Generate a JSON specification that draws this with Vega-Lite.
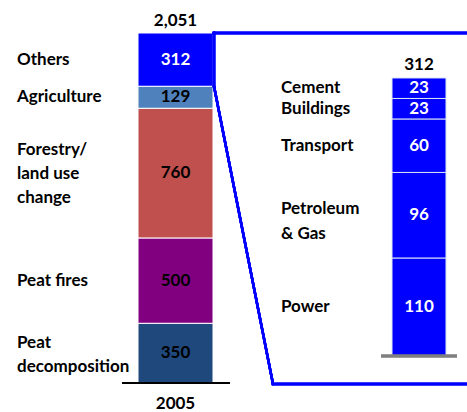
{
  "$schema": "https://vega.github.io/schema/vega-lite/v6.json",
  "width": 467,
  "height": 412,
  "autosize": {"type": "none"},
  "padding": 0,
  "background": "white",
  "config": {
    "view": {"stroke": null},
    "axis": {"disable": true},
    "text": {"font": "Lato", "fontWeight": "bold", "fontSize": 17}
  },
  "datasets": {
    "total": [
      {"cat": "Peat decomposition", "label": "Peat\ndecomposition", "value": 350, "ord": 1, "year": "2005"},
      {"cat": "Peat fires", "label": "Peat fires", "value": 500, "ord": 2, "year": "2005"},
      {"cat": "Forestry/land use change", "label": "Forestry/\nland use\nchange", "value": 760, "ord": 3, "year": "2005"},
      {"cat": "Agriculture", "label": "Agriculture", "value": 129, "ord": 4, "year": "2005"},
      {"cat": "Others", "label": "Others", "value": 312, "ord": 5, "year": "2005"}
    ],
    "others": [
      {"cat": "Power", "label": "Power", "value": 110, "ord": 1},
      {"cat": "Petroleum & Gas", "label": "Petroleum\n& Gas", "value": 96, "ord": 2},
      {"cat": "Transport", "label": "Transport", "value": 60, "ord": 3},
      {"cat": "Buildings", "label": "Buildings", "value": 23, "ord": 4},
      {"cat": "Cement", "label": "Cement", "value": 23, "ord": 5}
    ]
  },
  "resolve": {"scale": {"y": "independent"}},
  "layer": [
    {
      "data": {"name": "total"},
      "layer": [
        {
          "transform": [{"stack": "value", "groupby": [], "sort": [{"field": "ord"}], "as": ["v0", "v1"]}],
          "mark": {"type": "rect", "stroke": "white", "strokeWidth": 1},
          "encoding": {
            "x": {"datum": 138, "type": "quantitative", "scale": {"domain": [0, 467], "nice": false, "zero": false}},
            "x2": {"datum": 213},
            "y": {"field": "v0", "type": "quantitative", "scale": {"domain": [-170, 2244.4], "nice": false, "zero": false}},
            "y2": {"field": "v1"},
            "color": {
              "field": "cat", "type": "nominal", "legend": null,
              "scale": {
                "domain": ["Peat decomposition", "Peat fires", "Forestry/land use change", "Agriculture", "Others"],
                "range": ["#1F497D", "#800080", "#C0504D", "#4F81BD", "#0000FF"]
              }
            }
          }
        },
        {
          "mark": {"type": "text", "align": "center", "baseline": "middle"},
          "encoding": {
            "x": {"datum": 175.5, "type": "quantitative"},
            "y": {"field": "value", "type": "quantitative", "stack": "zero", "bandPosition": 0.5},
            "order": {"field": "ord", "type": "quantitative"},
            "detail": {"field": "cat"},
            "text": {"field": "value", "type": "quantitative"},
            "color": {"condition": {"test": "datum.cat === 'Others'", "value": "white"}, "value": "black"}
          }
        },
        {
          "mark": {"type": "text", "align": "left", "baseline": "middle", "lineBreak": "\n", "lineHeight": 24, "color": "black"},
          "encoding": {
            "x": {"datum": 17, "type": "quantitative"},
            "y": {"field": "value", "type": "quantitative", "stack": "zero", "bandPosition": 0.5},
            "order": {"field": "ord", "type": "quantitative"},
            "detail": {"field": "cat"},
            "text": {"condition": {"test": "datum.ord >= 4 || datum.ord === 2", "field": "label"}, "value": ""}
          }
        },
        {
          "mark": {"type": "text", "align": "left", "baseline": "middle", "lineBreak": "\n", "lineHeight": 24, "color": "black", "dy": -23},
          "encoding": {
            "x": {"datum": 17, "type": "quantitative"},
            "y": {"field": "value", "type": "quantitative", "stack": "zero", "bandPosition": 0.5},
            "order": {"field": "ord", "type": "quantitative"},
            "detail": {"field": "cat"},
            "text": {"condition": {"test": "datum.ord === 3", "field": "label"}, "value": ""}
          }
        },
        {
          "mark": {"type": "text", "align": "left", "baseline": "middle", "lineBreak": "\n", "lineHeight": 24, "color": "black", "dy": -10},
          "encoding": {
            "x": {"datum": 17, "type": "quantitative"},
            "y": {"field": "value", "type": "quantitative", "stack": "zero", "bandPosition": 0.5},
            "order": {"field": "ord", "type": "quantitative"},
            "detail": {"field": "cat"},
            "text": {"condition": {"test": "datum.ord === 1", "field": "label"}, "value": ""}
          }
        },
        {
          "mark": {"type": "text", "align": "center", "baseline": "alphabetic", "dy": -7, "color": "black"},
          "encoding": {
            "x": {"datum": 175.5, "type": "quantitative"},
            "y": {"aggregate": "sum", "field": "value", "type": "quantitative"},
            "text": {"aggregate": "sum", "field": "value", "type": "quantitative", "format": ","}
          }
        },
        {
          "mark": {"type": "text", "align": "center", "baseline": "middle", "dy": 21, "color": "black"},
          "encoding": {
            "x": {"datum": 175.5, "type": "quantitative"},
            "y": {"datum": 0, "type": "quantitative"},
            "text": {"aggregate": "max", "field": "year"}
          }
        },
        {
          "mark": {"type": "rule", "color": "black", "strokeWidth": 2},
          "encoding": {
            "x": {"datum": 122, "type": "quantitative"},
            "x2": {"datum": 230},
            "y": {"datum": 0, "type": "quantitative"}
          }
        },
        {
          "mark": {"type": "rule", "color": "#0000FF", "strokeWidth": 2.5, "strokeCap": "square"},
          "encoding": {
            "x": {"datum": 214, "type": "quantitative"},
            "x2": {"datum": 467},
            "y": {"datum": 2051, "type": "quantitative"}
          }
        },
        {
          "mark": {"type": "rule", "color": "#0000FF", "strokeWidth": 2.5, "strokeCap": "square"},
          "encoding": {
            "x": {"datum": 214, "type": "quantitative"},
            "y": {"datum": 2051, "type": "quantitative"},
            "y2": {"datum": 1739}
          }
        },
        {
          "mark": {"type": "rule", "color": "#0000FF", "strokeWidth": 2.5, "strokeCap": "round"},
          "encoding": {
            "x": {"datum": 214, "type": "quantitative"},
            "x2": {"datum": 273},
            "y": {"datum": 1739, "type": "quantitative"},
            "y2": {"datum": -6}
          }
        },
        {
          "mark": {"type": "rule", "color": "#0000FF", "strokeWidth": 2.5, "strokeCap": "square"},
          "encoding": {
            "x": {"datum": 273, "type": "quantitative"},
            "x2": {"datum": 467},
            "y": {"datum": -6, "type": "quantitative"}
          }
        }
      ]
    },
    {
      "data": {"name": "others"},
      "layer": [
        {
          "transform": [{"stack": "value", "groupby": [], "sort": [{"field": "ord"}], "as": ["v0", "v1"]}],
          "mark": {"type": "rect", "color": "#0000FF", "stroke": "#DCE6F2", "strokeWidth": 1},
          "encoding": {
            "x": {"datum": 392, "type": "quantitative"},
            "x2": {"datum": 446},
            "y": {"field": "v0", "type": "quantitative", "scale": {"domain": [-62.85, 399.5], "nice": false, "zero": false}},
            "y2": {"field": "v1"}
          }
        },
        {
          "mark": {"type": "text", "align": "center", "baseline": "middle", "color": "white"},
          "encoding": {
            "x": {"datum": 419, "type": "quantitative"},
            "y": {"field": "value", "type": "quantitative", "stack": "zero", "bandPosition": 0.5},
            "order": {"field": "ord", "type": "quantitative"},
            "detail": {"field": "cat"},
            "text": {"field": "value", "type": "quantitative"}
          }
        },
        {
          "mark": {"type": "text", "align": "left", "baseline": "middle", "lineBreak": "\n", "lineHeight": 25, "color": "black"},
          "encoding": {
            "x": {"datum": 281, "type": "quantitative"},
            "y": {"field": "value", "type": "quantitative", "stack": "zero", "bandPosition": 0.5},
            "order": {"field": "ord", "type": "quantitative"},
            "detail": {"field": "cat"},
            "text": {"condition": {"test": "datum.ord !== 2", "field": "label"}, "value": ""}
          }
        },
        {
          "mark": {"type": "text", "align": "left", "baseline": "middle", "lineBreak": "\n", "lineHeight": 25, "color": "black", "dy": -6},
          "encoding": {
            "x": {"datum": 281, "type": "quantitative"},
            "y": {"field": "value", "type": "quantitative", "stack": "zero", "bandPosition": 0.5},
            "order": {"field": "ord", "type": "quantitative"},
            "detail": {"field": "cat"},
            "text": {"condition": {"test": "datum.ord === 2", "field": "label"}, "value": ""}
          }
        },
        {
          "mark": {"type": "text", "align": "center", "baseline": "alphabetic", "dy": -8, "color": "black"},
          "encoding": {
            "x": {"datum": 419, "type": "quantitative"},
            "y": {"aggregate": "sum", "field": "value", "type": "quantitative"},
            "text": {"aggregate": "sum", "field": "value", "type": "quantitative"}
          }
        },
        {
          "mark": {"type": "rule", "color": "#808080", "strokeWidth": 2.5},
          "encoding": {
            "x": {"datum": 381, "type": "quantitative"},
            "x2": {"datum": 457},
            "y": {"datum": 0, "type": "quantitative"}
          }
        }
      ]
    }
  ]
}
